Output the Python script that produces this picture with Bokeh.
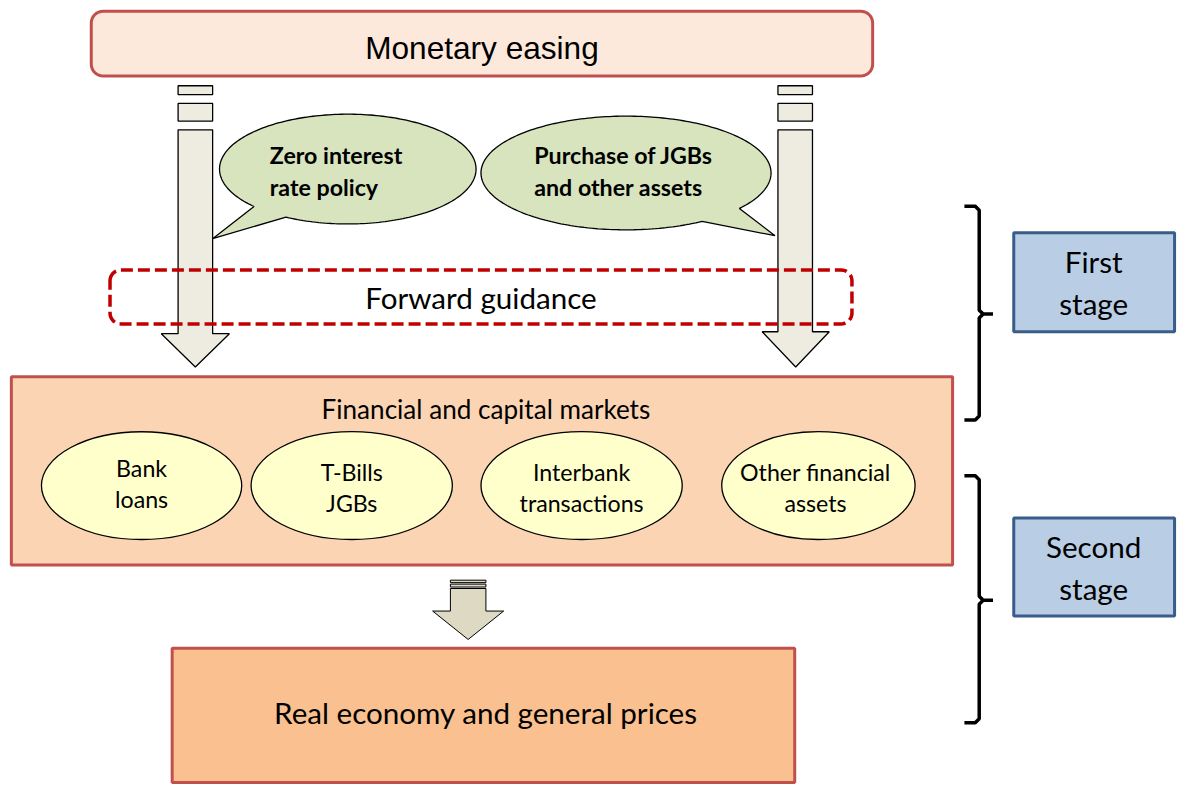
import numpy as np
from bokeh.plotting import figure
from bokeh.models import Range1d, ColumnDataSource
from bokeh.core.properties import value
from bokeh.embed import file_html
from bokeh.resources import INLINE

# ---------------- texts (content of the diagram) ----------------
title_label = "Monetary easing"
bubble_lines = [["Zero interest", "rate policy"], ["Purchase of  JGBs", "and other assets"]]
guidance_label = "Forward guidance"
market_label = "Financial and capital markets"
asset_lines = [["Bank", "loans"], ["T-Bills", "JGBs"], ["Interbank", "transactions"], ["Other financial", "assets"]]
economy_label = "Real economy and general prices"
stage_lines = [["First", "stage"], ["Second", "stage"]]

# ---------------- layout (reference pixel space 1195 x 801) ----------------
RW, RH = 1195, 801
W, H = 1179, 785
S = W / RW
p = figure(width=W, height=H, x_range=Range1d(0, RW), y_range=Range1d(RH, 0),
           output_backend="svg", toolbar_location=None, min_border=0)
p.axis.visible = False
p.grid.visible = False
p.outline_line_color = None
p.background_fill_color = "white"
p.border_fill_color = "white"


def fs(px):
    return f"{px * S:.1f}px"


CAL = value("Lato")
RED_BORDER = "#C0504D"


def rrect(x0, y0, x1, y1, r, n=10):
    xs, ys = [], []
    corners = [((x0 + r, y0 + r), np.pi, 1.5 * np.pi),
               ((x1 - r, y0 + r), 1.5 * np.pi, 2 * np.pi),
               ((x1 - r, y1 - r), 0, 0.5 * np.pi),
               ((x0 + r, y1 - r), 0.5 * np.pi, np.pi)]
    for (cx, cy), a0, a1 in corners:
        t = np.linspace(a0, a1, n)
        xs += list(cx + r * np.cos(t))
        ys += list(cy + r * np.sin(t))
    return xs, ys


def bubble(cx, cy, a, b, p1, tip, p2, n=240):
    t1 = np.arctan2((p1[1] - cy) / b, (p1[0] - cx) / a) % (2 * np.pi)
    t2 = np.arctan2((p2[1] - cy) / b, (p2[0] - cx) / a) % (2 * np.pi)
    lo, hi = min(t1, t2), max(t1, t2)
    t = np.linspace(hi, lo + 2 * np.pi, n)
    xs = list(cx + a * np.cos(t)) + [tip[0]]
    ys = list(cy + b * np.sin(t)) + [tip[1]]
    return xs, ys


def down_arrow(xl, xr, top, head_top, hl, hr, tip_y):
    xm = (hl + hr) / 2
    xs = [xl, xr, xr, hr, xm, hl, xl]
    ys = [top, top, head_top, head_top, tip_y, head_top, head_top]
    return xs, ys


# ---------- Monetary easing box ----------
xs, ys = rrect(92, 11, 884, 77, 12)
p.patch(xs, ys, fill_color="#FDE9DB", line_color=RED_BORDER, line_width=3)
p.text(x=[488], y=[48], text=[title_label], text_font=value("Liberation Sans"),
       text_font_size=fs(32), text_align="center", text_baseline="middle", text_color="black")

# ---------- vertical arrows ----------
ARROW_FILL = "#EEECE1"
for (xl, xr, hl, hr, head_top) in [(180, 215, 163, 232, 340), (788, 823, 772, 840, 338)]:
    p.quad(left=[xl, xl], right=[xr, xr], top=[87, 105], bottom=[96, 123],
           fill_color=ARROW_FILL, line_color="black", line_width=1.3)
    axs, ays = down_arrow(xl, xr, 132, head_top, hl, hr, 374)
    p.patch(axs, ays, fill_color=ARROW_FILL, line_color="black", line_width=1.3)

# ---------- speech bubbles ----------
BUBBLE_FILL = "#D7E4BD"
bxs, bys = bubble(352, 172, 130, 56, (245, 215), (215, 243), (278, 230))
p.patch(bxs, bys, fill_color=BUBBLE_FILL, line_color="black", line_width=1.3)
bxs, bys = bubble(634, 176, 147, 58, (758, 215), (785, 240), (720, 231))
p.patch(bxs, bys, fill_color=BUBBLE_FILL, line_color="black", line_width=1.3)

p.text(x=[273, 273], y=[158, 190], text=bubble_lines[0], text_font=CAL, text_font_style="bold",
       text_font_size=fs(23.5), text_align="left", text_baseline="middle", text_color="black")
p.text(x=[541, 541], y=[158, 190], text=bubble_lines[1], text_font=CAL, text_font_style="bold",
       text_font_size=fs(23.5), text_align="left", text_baseline="middle", text_color="black")

# ---------- forward guidance (dashed) ----------
gxs, gys = rrect(111, 275, 863, 330, 11)
gxs.append(gxs[0]); gys.append(gys[0])
p.line(gxs, gys, line_color="#C00000", line_width=3.5, line_dash="12 5")
p.text(x=[487], y=[303], text=[guidance_label], text_font=CAL, text_font_size=fs(30),
       text_align="center", text_baseline="middle", text_color="black")

# ---------- financial and capital markets ----------
p.quad(left=[11], right=[965], top=[384], bottom=[576], fill_color="#FBD4B4",
       line_color=RED_BORDER, line_width=3)
p.text(x=[492], y=[417], text=[market_label], text_font=CAL, text_font_size=fs(26.5),
       text_align="center", text_baseline="middle", text_color="black")

ell = ColumnDataSource(dict(x=[143, 356, 589, 829], y=[495, 495, 495, 495],
                            w=[203, 204, 204, 196], h=[110, 110, 110, 110]))
p.ellipse(x="x", y="y", width="w", height="h", source=ell, fill_color="#FFFFCC",
          line_color="black", line_width=1.3)
ax, ay, at = [], [], []
for cx, dy, lines in zip([143, 356, 589, 826], [-4, 0, 0, 0], asset_lines):
    ax += [cx, cx]
    ay += [481 + dy, 513 + dy]
    at += lines
p.text(x=ax, y=ay, text=at, text_font=CAL, text_font_size=fs(23.5), text_align="center",
       text_baseline="middle", text_color="black")

# ---------- bottom arrow ----------
BA_FILL = "#DDD9C3"
p.quad(left=[456, 456], right=[492, 492], top=[591.5, 595.5], bottom=[594, 598.5],
       fill_color=BA_FILL, line_color="black", line_width=1)
axs, ays = down_arrow(456, 492, 600, 623, 438, 510, 652)
p.patch(axs, ays, fill_color=BA_FILL, line_color="black", line_width=1)

# ---------- real economy ----------
p.quad(left=[174], right=[805], top=[661], bottom=[798], fill_color="#FAC090",
       line_color=RED_BORDER, line_width=3)
p.text(x=[492], y=[727], text=[economy_label], text_font=CAL, text_font_size=fs(30),
       text_align="center", text_baseline="middle", text_color="black")

# ---------- braces ----------
for top, mid, bot in [(210, 320, 428), (485, 612, 737)]:
    p.line([977, 988, 992, 992, 996, 1006], [top, top, top + 4, mid - 4, mid, mid],
           line_color="black", line_width=3.5)
    p.line([996, 992, 992, 988, 977], [mid, mid + 4, bot - 4, bot, bot],
           line_color="black", line_width=3.5)

# ---------- stage boxes ----------
p.quad(left=[1027, 1027], right=[1190, 1190], top=[237, 528], bottom=[338, 628],
       fill_color="#B9CDE5", line_color="#385D8A", line_width=3)
p.text(x=[1108, 1108, 1108, 1108], y=[266, 309, 557, 600],
       text=stage_lines[0] + stage_lines[1], text_font=CAL, text_font_size=fs(30),
       text_align="center", text_baseline="middle", text_color="black")

open("out.html", "w").write(file_html(p, INLINE))
